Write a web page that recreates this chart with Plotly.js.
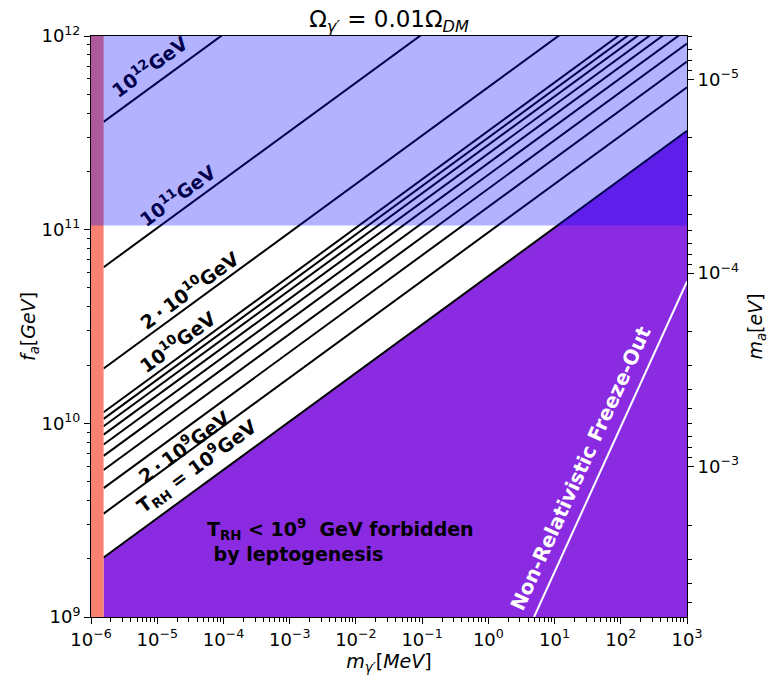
<!DOCTYPE html>
<html>
<head>
<meta charset="utf-8">
<script src="https://cdn.plot.ly/plotly-3.0.1.min.js"></script>
<style>
  html, body { margin: 0; padding: 0; background: #ffffff; }
  #plot { width: 769px; height: 679px; }
</style>
</head>
<body>
<div id="plot"></div>
<script>
// Reheating temperature of each iso-T_RH contour (GeV)
const tReheat = [1e12, 1e11, 2e10, 1e10, 9e9, 8e9, 7e9, 6e9, 5e9, 4e9, 3e9, 2e9, 1e9];
// dark photon mass at the two ends of every contour (MeV)
const contourMass = [1.55e-6, 1e3];
// f_a at the low-mass end and at the high-mass end of each contour (GeV)
const faStart = [3.6e11, 6.4e10, 1.92e10, 1.14e10, 1.055e10, 9.66e9, 8.74e9, 7.78e9, 6.79e9, 5.74e9, 4.63e9, 3.42e9, 2.03e9];
const faEnd   = [5.75e13, 1.02e13, 3.06e12, 1.82e12, 1.68e12, 1.54e12, 1.39e12, 1.24e12, 1.08e12, 9.15e11, 7.38e11, 5.44e11, 3.24e11];

// non-relativistic freeze-out boundary
const freezeMass = [4.9, 1e3];
const freezeFa = [1e9, 5.4e10];

// shaded regions
const faUpperBound = 1.05e11;   // blue: f_a above this
const massLowerCut = 1.55e-6;   // salmon: m_gamma' below this

// axis extents
const massRange = [1e-6, 1e3];
const faRange = [1e9, 1e12];

// axion mass conversion: m_a [eV] = maTimesFa / f_a [GeV]
const maTimesFa = 5.97e6;

// tick values and labels
const xTickVals = [1e-6, 1e-5, 1e-4, 1e-3, 1e-2, 1e-1, 1e0, 1e1, 1e2, 1e3];
const xTickText = ['10<sup>\u22126</sup>', '10<sup>\u22125</sup>', '10<sup>\u22124</sup>', '10<sup>\u22123</sup>',
                   '10<sup>\u22122</sup>', '10<sup>\u22121</sup>', '10<sup>0</sup>', '10<sup>1</sup>',
                   '10<sup>2</sup>', '10<sup>3</sup>'];
const yTickVals = [1e9, 1e10, 1e11, 1e12];
const yTickText = ['10<sup>9</sup>', '10<sup>10</sup>', '10<sup>11</sup>', '10<sup>12</sup>'];
const y2TickVals = [1e-5, 1e-4, 1e-3];
const y2TickText = ['10<sup>\u22125</sup>', '10<sup>\u22124</sup>', '10<sup>\u22123</sup>'];

// contour labels
const labelTexts = ['10<sup>12</sup>GeV', '10<sup>11</sup>GeV', '2\u2009\u00b7\u200910<sup>10</sup>GeV',
                    '10<sup>10</sup>GeV', '2\u2009\u00b7\u200910<sup>9</sup>GeV', 'T<sub>RH</sub> = 10<sup>9</sup>GeV'];

// minor ticks at 2..9 of every decade between lo and hi exponents
function minorTicks(lo, hi) {
  const out = [];
  for (let e = lo; e <= hi; e++) {
    for (let k = 2; k <= 9; k++) out.push(k * Math.pow(10, e));
  }
  return out;
}

const FONT = 'DejaVu Sans, sans-serif';
const traces = [];

// forbidden region below the T_RH = 1e9 GeV contour
const last = tReheat.length - 1;
traces.push({
  x: [contourMass[0], contourMass[1], contourMass[1], contourMass[0]],
  y: [faStart[last], faEnd[last], faRange[0], faRange[0]],
  mode: 'lines', fill: 'toself', fillcolor: '#8a2be2',
  line: { width: 0 }, hoverinfo: 'skip', showlegend: false
});

// iso-T_RH contours
tReheat.forEach((t, i) => {
  traces.push({
    x: contourMass,
    y: [faStart[i], faEnd[i]],
    mode: 'lines', line: { color: '#000000', width: 2 },
    name: 'T_RH = ' + t, hoverinfo: 'skip', showlegend: false
  });
});

// freeze-out line
traces.push({
  x: freezeMass, y: freezeFa,
  mode: 'lines', line: { color: '#ffffff', width: 2 },
  hoverinfo: 'skip', showlegend: false
});

// low-mass band
traces.push({
  x: [massRange[0], massLowerCut, massLowerCut, massRange[0]],
  y: [faRange[0], faRange[0], faRange[1], faRange[1]],
  mode: 'lines', fill: 'toself', fillcolor: '#fa8072',
  line: { width: 0 }, hoverinfo: 'skip', showlegend: false
});

// large-f_a band, translucent over everything below it
traces.push({
  x: [massRange[0], massRange[1], massRange[1], massRange[0]],
  y: [faUpperBound, faUpperBound, faRange[1], faRange[1]],
  mode: 'lines', fill: 'toself', fillcolor: 'rgba(0,0,255,0.3)',
  line: { width: 0 }, hoverinfo: 'skip', showlegend: false
});

// carrier for the m_a axis
traces.push({
  x: massRange,
  y: [maTimesFa / faRange[0], maTimesFa / faRange[1]],
  yaxis: 'y2', mode: 'markers', marker: { opacity: 0, size: 1 },
  hoverinfo: 'skip', showlegend: false
});

const tickFont = { family: FONT, size: 18, color: '#000000' };
const labelFont = { family: FONT, size: 19, color: '#000000' };

function axisBase() {
  return {
    type: 'log', showgrid: false, zeroline: false,
    showline: true, linecolor: '#000000', linewidth: 1,
    ticks: 'outside', ticklen: 6, tickwidth: 1, tickcolor: '#000000',
    tickfont: tickFont, tickmode: 'array'
  };
}

const xaxis = Object.assign(axisBase(), {
  range: [Math.log10(massRange[0]), Math.log10(massRange[1])],
  tickvals: xTickVals, ticktext: xTickText, mirror: true,
  minor: { tickmode: 'array', tickvals: minorTicks(-6, 2), ticks: 'outside', ticklen: 3.5, tickwidth: 1, tickcolor: '#000000', showgrid: false },
  title: { text: '<i>m<sub>\u03b3\u2032</sub></i>[<i>MeV</i>]', font: labelFont, standoff: 6 }
});

const yaxis = Object.assign(axisBase(), {
  range: [Math.log10(faRange[0]), Math.log10(faRange[1])],
  tickvals: yTickVals, ticktext: yTickText,
  minor: { tickmode: 'array', tickvals: minorTicks(9, 11), ticks: 'outside', ticklen: 3.5, tickwidth: 1, tickcolor: '#000000', showgrid: false },
  title: { text: '<i>f<sub>a</sub></i>[<i>GeV</i>]', font: labelFont, standoff: 0 }
});

const yaxis2 = Object.assign(axisBase(), {
  overlaying: 'y', side: 'right', anchor: 'x',
  range: [Math.log10(maTimesFa / faRange[0]), Math.log10(maTimesFa / faRange[1])],
  tickvals: y2TickVals, ticktext: y2TickText,
  minor: { tickmode: 'array', tickvals: minorTicks(-6, -3), ticks: 'outside', ticklen: 3.5, tickwidth: 1, tickcolor: '#000000', showgrid: false },
  title: { text: '<i>m<sub>a</sub></i>[<i>eV</i>]', font: labelFont, standoff: 12 }
});

// label placement in plot-area fractions
const labelPos = [
  { x: 0.0973, y: 0.9484, c: '#00004c' },
  { x: 0.1443, y: 0.7263, c: '#00004c' },
  { x: 0.1636, y: 0.5628, c: '#000000' },
  { x: 0.1451, y: 0.4750, c: '#000000' },
  { x: 0.1560, y: 0.2943, c: '#000000' },
  { x: 0.1779, y: 0.2582, c: '#000000' }
];

const annotations = labelTexts.map((t, i) => ({
  text: '<b>' + t + '</b>', xref: 'paper', yref: 'paper',
  x: labelPos[i].x, y: labelPos[i].y, xanchor: 'center', yanchor: 'middle',
  textangle: -36.2, showarrow: false,
  font: { family: FONT, size: 19, color: labelPos[i].c }
}));

annotations.push({
  text: '<b>T<sub>RH</sub> &lt; 10<sup>9</sup>  GeV forbidden<br>\u00a0by leptogenesis</b>',
  xref: 'paper', yref: 'paper', x: 0.1913, y: 0.1325,
  xanchor: 'left', yanchor: 'middle', align: 'left', showarrow: false,
  font: { family: FONT, size: 19, color: '#000000' }
});

annotations.push({
  text: '<b>Non-Relativistic Freeze-Out</b>',
  xref: 'paper', yref: 'paper', x: 0.8213, y: 0.2573,
  xanchor: 'center', yanchor: 'middle', textangle: -65.5, showarrow: false,
  font: { family: FONT, size: 20, color: '#ffffff' }
});

const layout = {
  width: 769, height: 679,
  margin: { l: 91, r: 82, t: 36, b: 62, pad: 0 },
  paper_bgcolor: '#ffffff', plot_bgcolor: '#ffffff',
  font: { family: FONT, color: '#000000' },
  title: {
    text: '\u03a9<sub><i>\u03b3\u2032</i></sub> = 0.01\u03a9<sub><i>DM</i></sub>',
    font: { family: FONT, size: 23, color: '#000000' },
    x: 0.5, xref: 'paper', y: 1 - 19 / 679, yref: 'container', yanchor: 'middle'
  },
  xaxis: xaxis, yaxis: yaxis, yaxis2: yaxis2,
  annotations: annotations,
  showlegend: false
};

Plotly.newPlot('plot', traces, layout, { staticPlot: true, displayModeBar: false });
</script>
</body>
</html>
